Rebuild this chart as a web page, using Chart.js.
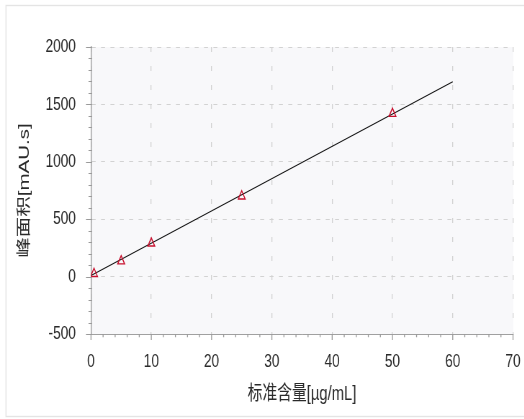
<!DOCTYPE html>
<html>
<head>
<meta charset="utf-8">
<script src="https://cdn.jsdelivr.net/npm/chart.js@4"></script>
<style>
  html, body { margin: 0; padding: 0; background: #fff; overflow: hidden; }
  #stage { width: 524px; height: 419px; position: relative; overflow: hidden; }
  /* the chart is laid out wide and shown horizontally condensed */
  #wrap { position: absolute; left: 0; top: 0; width: 728px; height: 419px;
          transform: scaleX(0.72); transform-origin: 0 0; }
</style>
</head>
<body>
<div id="stage"><div id="wrap"><canvas id="c"></canvas></div></div>
<script>
// Calibration standards: concentration (µg/mL) vs. peak area (mAU.s)
const concentrations = [0.5, 5, 10, 25, 50];
const peakAreas = [25, 135, 290, 700, 1420];

// Linear calibration fit, drawn from 0 to 60 µg/mL
const fitX = [0, 60];
const fitY = [10, 1697];

// Axis ticks
const xTicks = [0, 10, 20, 30, 40, 50, 60, 70];
const yTicks = [-500, 0, 500, 1000, 1500, 2000];

const xTitle = '标准含量[µg/mL]';
const yTitle = '峰面积[mAU.s]';

const FONT = "'Liberation Sans', Arial, 'Noto Sans CJK SC', sans-serif";
const TEXT_COLOR = '#2a2a2a';
const GRID_COLOR = '#d2d2d2';
const AXIS_COLOR = '#a0a0a0';
const CLEAR = 'rgba(0,0,0,0)';

// Frame around the figure and the tinted plot area
const backdrop = {
  id: 'backdrop',
  beforeDraw(chart) {
    const { ctx, chartArea: a, width, height } = chart;
    ctx.save();
    ctx.fillStyle = '#ffffff';
    ctx.fillRect(0, 0, width, height);
    ctx.strokeStyle = '#e4e4e4';
    ctx.lineWidth = 1.4;
    ctx.strokeRect(8.3, 5.5, width + 20, 411);
    ctx.fillStyle = '#f8f8fa';
    ctx.fillRect(a.left, a.top, a.right - a.left, a.bottom - a.top);
    ctx.restore();
  }
};

// Major and minor tick marks on the left and bottom axes
const tickMarks = {
  id: 'tickMarks',
  afterDraw(chart) {
    const { ctx, chartArea: a, scales: { x, y } } = chart;
    const yMajor = yTicks[1] - yTicks[0], yMinor = yMajor / 5;
    const xMajor = xTicks[1] - xTicks[0], xMinor = xMajor / 5;
    const isMajor = (v, base, step) => {
      const k = (v - base) / step;
      return Math.abs(k - Math.round(k)) < 1e-6;
    };
    ctx.save();
    ctx.strokeStyle = '#9a9a9a';
    ctx.lineWidth = 1;
    ctx.beginPath();
    for (let v = y.min; v <= y.max + 1e-6; v += yMinor) {
      const py = Math.round(y.getPixelForValue(v)) + 0.5;
      ctx.moveTo(a.left - (isMajor(v, y.min, yMajor) ? 7 : 3.5), py);
      ctx.lineTo(a.left + 1.5, py);
    }
    ctx.stroke();
    ctx.lineWidth = 1.3;
    ctx.beginPath();
    for (let v = x.min; v <= x.max + 1e-6; v += xMinor) {
      const px = x.getPixelForValue(v);
      ctx.moveTo(px, a.bottom);
      ctx.lineTo(px, a.bottom + (isMajor(v, x.min, xMajor) ? 6 : 3.3));
    }
    ctx.stroke();
    ctx.restore();
  }
};

new Chart(document.getElementById('c'), {
  type: 'scatter',
  data: {
    datasets: [
      {
        label: 'fit',
        data: fitX.map((v, i) => ({ x: v, y: fitY[i] })),
        showLine: true,
        borderColor: '#111111',
        borderWidth: 1.2,
        pointRadius: 0,
        order: 1
      },
      {
        label: 'standards',
        data: concentrations.map((v, i) => ({ x: v, y: peakAreas[i] })),
        pointStyle: 'triangle',
        pointRadius: 5.5,
        borderColor: '#c8102e',
        backgroundColor: CLEAR,
        borderWidth: 1.4,
        order: 0
      }
    ]
  },
  options: {
    responsive: true,
    maintainAspectRatio: false,
    animation: false,
    layout: { padding: { left: 0, top: 47, right: 15.5, bottom: 0 } },
    plugins: { legend: { display: false }, tooltip: { enabled: false } },
    scales: {
      x: {
        type: 'linear',
        min: xTicks[0],
        max: xTicks[xTicks.length - 1],
        ticks: { stepSize: xTicks[1] - xTicks[0], padding: 0, color: TEXT_COLOR,
                 font: { family: FONT, size: 19 }, callback: v => String(v) },
        grid: { color: GRID_COLOR, lineWidth: 1.3, drawTicks: true, tickLength: 16, tickColor: CLEAR },
        border: { display: true, color: AXIS_COLOR, width: 1, dash: [5, 14] },
        title: { display: true, text: xTitle, color: TEXT_COLOR,
                 font: { family: FONT, size: 20.5 }, padding: { top: 0, bottom: 12 } },
        afterFit(scale) { scale.height = 85; }
      },
      y: {
        type: 'linear',
        min: yTicks[0],
        max: yTicks[yTicks.length - 1],
        ticks: { stepSize: yTicks[1] - yTicks[0], padding: 0, color: TEXT_COLOR,
                 font: { family: FONT, size: 19 }, callback: v => String(v) },
        grid: { color: GRID_COLOR, lineWidth: 1, drawTicks: true, tickLength: 21, tickColor: CLEAR },
        border: { display: true, color: AXIS_COLOR, width: 1.4, dash: [5.5, 7.5] },
        title: { display: true, text: yTitle, color: TEXT_COLOR,
                 font: { family: FONT, size: 20.5 }, padding: { top: 22, bottom: 0 } },
        afterFit(scale) { scale.width = 126.4; }
      }
    }
  },
  plugins: [backdrop, tickMarks]
});
</script>
</body>
</html>
